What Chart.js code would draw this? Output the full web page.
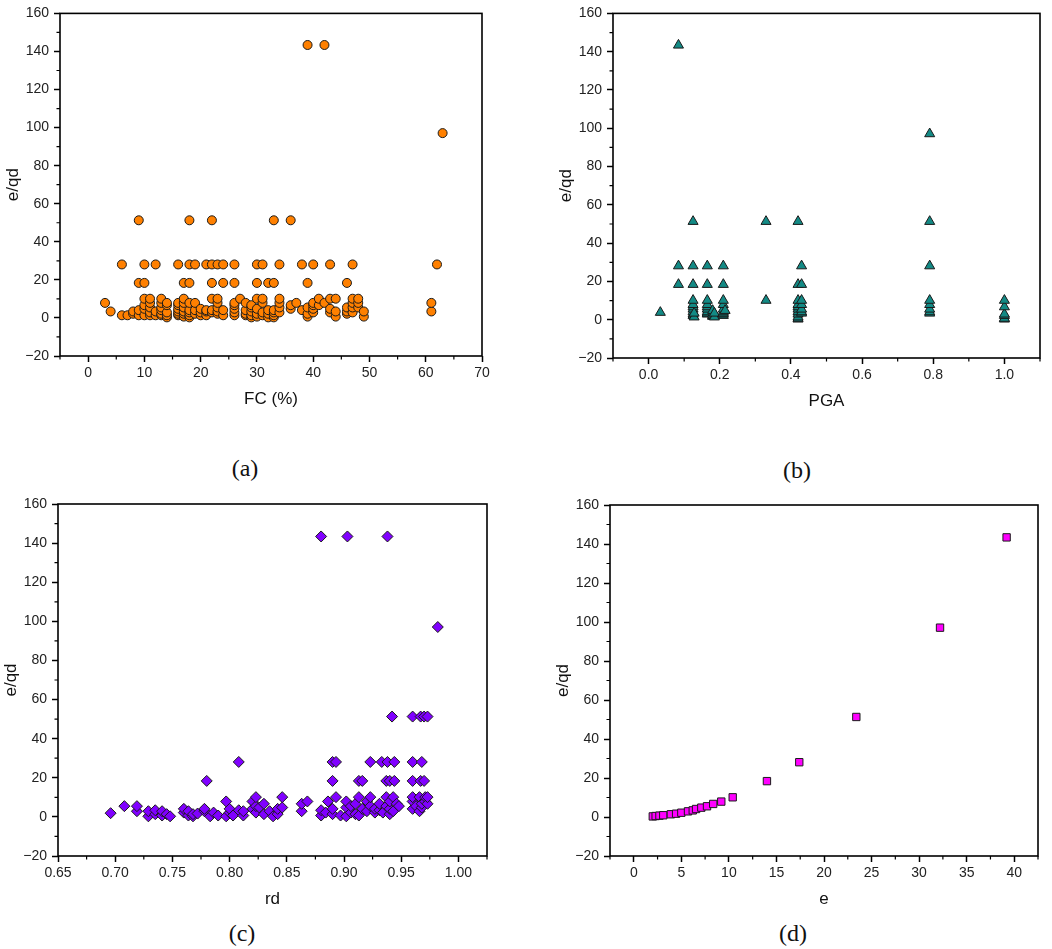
<!DOCTYPE html>
<html><head><meta charset="utf-8">
<script src="https://cdn.jsdelivr.net/npm/chart.js@4.4.1/dist/chart.umd.min.js"></script>
<style>
html,body{margin:0;padding:0;background:#fff;}
body{width:1052px;height:949px;position:relative;overflow:hidden;font-family:"Liberation Sans",Arial,sans-serif;}
canvas{position:absolute;}
.lab{position:absolute;font-family:"Liberation Serif","Times New Roman",serif;font-size:24px;color:#111;transform:translate(-50%,-50%);white-space:nowrap;}
</style></head><body>
<canvas id="ca" width="500" height="410" style="left:2px;top:0px;width:500px;height:410px"></canvas>
<canvas id="cb" width="497" height="412" style="left:555px;top:0px;width:497px;height:412px"></canvas>
<canvas id="cc" width="507" height="420" style="left:0px;top:490px;width:507px;height:420px"></canvas>
<canvas id="cd" width="500" height="420" style="left:552px;top:490px;width:500px;height:420px"></canvas>
<div class="lab" style="left:245px;top:468px">(a)</div>
<div class="lab" style="left:797px;top:470px">(b)</div>
<div class="lab" style="left:242px;top:933px">(c)</div>
<div class="lab" style="left:793px;top:933px">(d)</div>
<script>
// ---------- data ----------
// shared y ticks
const yTicks = [-20, 0, 20, 40, 60, 80, 100, 120, 140, 160];

// (a) FC (%) vs e/qd : each FC value with the e/qd values plotted at it
const aFC = [3, 4, 6, 7, 8, 9, 10, 11, 12, 13, 14, 16, 17, 18, 19, 20, 21, 22, 23, 24, 26, 27, 28, 29, 30, 31, 32, 33, 34, 36, 37, 38, 39, 40, 41, 42, 43, 44, 46, 47, 48, 49, 61, 62, 63];
const aEqd = [
  [7.9], [3.4], [1.4, 28.1], [1.4], [2.2, 3.4], [1.4, 4.1, 18.4, 51.3],
  [1.4, 4.8, 6.7, 10.1, 18.4, 28.1], [1.4, 2.9, 5.5, 7.9, 10.1], [1.4, 3.4, 28.1],
  [1.4, 2.2, 4.1, 5.5, 7.9, 10.1], [0.3, 1.4, 2.9, 6.7, 7.9],
  [1.4, 2.2, 3.4, 4.8, 6.7, 7.9, 28.1], [0.7, 2.2, 3.4, 5.5, 7.9, 10.1, 18.4],
  [0.3, 1.4, 2.9, 4.1, 7.9, 18.4, 28.1, 51.3], [2.2, 4.1, 7.9, 28.1], [1.4, 2.9, 4.8],
  [1.4, 3.4, 4.1, 28.1], [2.9, 4.1, 10.1, 18.4, 28.1, 51.3], [2.2, 3.4, 5.5, 7.9, 10.1, 28.1],
  [1.4, 4.1, 18.4, 28.1], [1.4, 2.9, 4.8, 6.7, 7.9, 18.4, 28.1], [10.1], [1.4, 2.2, 4.1, 7.9],
  [0.3, 1.4, 3.4, 5.5, 6.7], [0.7, 2.2, 4.8, 10.1, 18.4, 28.1], [1.4, 2.9, 7.9, 10.1, 28.1],
  [0.3, 2.2, 4.1, 18.4], [0.3, 1.4, 2.9, 4.1, 18.4, 51.3], [2.9, 5.5, 7.9, 10.1, 28.1],
  [4.8, 6.7, 51.3], [7.9], [4.1, 28.1], [0.7, 2.2, 5.5, 18.4, 143.4], [2.9, 4.8, 6.7, 7.9, 28.1],
  [6.7, 10.1], [7.9, 143.4], [2.9, 4.8, 10.1, 28.1], [0.7, 3.4, 10.1], [2.2, 3.4, 5.5, 18.4],
  [2.9, 5.5, 7.9, 10.1, 28.1], [5.5, 7.9, 10.1], [0.7, 3.4], [3.4, 7.9], [28.1], [97.1]
];
const aXTicks = [0, 10, 20, 30, 40, 50, 60, 70];

// (b) PGA vs e/qd
const bPGA = [0.033, 0.084, 0.125, 0.128, 0.165, 0.18, 0.185, 0.21, 0.215, 0.33, 0.42, 0.43, 0.79, 1.0];
const bEqd = [
  [3.8], [18.4, 28.1, 143.4], [2.2, 2.9, 4.1, 5.5, 6.7, 7.9, 10.1, 18.4, 28.1, 51.3], [1.4, 3.4],
  [2.9, 3.4, 4.1, 5.5, 6.7, 7.9, 10.1, 18.4, 28.1], [1.7, 2.2, 2.9, 4.8], [1.4, 3.4],
  [2.2, 2.9, 3.4, 4.1, 5.5, 7.9, 10.1, 18.4, 28.1], [4.8], [10.1, 51.3],
  [0.3, 0.7, 1.4, 2.9, 4.1, 5.5, 6.7, 7.9, 10.1, 18.4, 51.3], [3.4, 4.1, 5.5, 7.9, 10.1, 18.4, 28.1],
  [3.4, 4.1, 5.5, 7.9, 10.1, 28.1, 51.3, 97.1], [0.3, 0.7, 2.2, 2.9, 6.7, 10.1]
];
const bXTicks = [0.0, 0.2, 0.4, 0.6, 0.8, 1.0];

// (c) rd vs e/qd
const cRd = [0.696, 0.708, 0.719, 0.729, 0.735, 0.741, 0.745, 0.748, 0.760, 0.764, 0.768, 0.772, 0.778, 0.780,
  0.783, 0.786, 0.790, 0.797, 0.800, 0.803, 0.808, 0.812, 0.820, 0.823, 0.826, 0.830, 0.835, 0.838, 0.842,
  0.846, 0.863, 0.868, 0.880, 0.884, 0.886, 0.890, 0.893, 0.897, 0.902, 0.903, 0.906, 0.910, 0.913, 0.916,
  0.920, 0.923, 0.927, 0.931, 0.933, 0.934, 0.937, 0.938, 0.940, 0.942, 0.943, 0.944, 0.946, 0.948, 0.960,
  0.963, 0.966, 0.967, 0.968, 0.970, 0.971, 0.973, 0.982];
const cEqd = [
  [1.9], [5.5], [2.9, 5.5], [0.3, 2.9], [1.4, 3.4], [0.7, 2.9], [1.4], [0.3], [2.2, 4.1], [0.7, 2.9],
  [0.3, 1.4], [1.7], [2.9, 4.1], [18.4], [0.3], [2.2], [0.7], [0.3, 7.9], [2.2, 4.1], [0.7], [3.4, 28.1],
  [0.7, 2.9], [4.1, 7.9], [2.2, 5.5, 10.1], [4.8], [1.4, 6.7], [2.9], [0.3], [1.4, 4.1], [4.8, 10.1],
  [2.9, 6.7], [7.9], [0.7, 3.4, 143.4], [2.2], [7.9], [1.4, 4.1, 18.4, 28.1], [10.1, 28.1], [0.7],
  [0.3, 4.8, 7.9], [143.4], [2.2, 5.5], [1.4, 6.7], [0.7, 10.1, 18.4], [4.1, 18.4], [2.9, 7.9],
  [5.5, 10.1, 28.1], [2.2, 4.1], [3.4, 6.7], [28.1], [2.2], [5.5, 10.1, 18.4], [28.1, 143.4],
  [1.4, 4.1, 7.9, 18.4], [51.3], [2.9, 10.1], [18.4, 28.1], [6.7], [5.5], [4.1, 7.9, 10.1, 18.4, 28.1, 51.3],
  [5.5], [2.9, 10.1], [18.4, 51.3], [4.8, 6.7, 28.1], [18.4, 51.3], [7.9, 10.1], [6.7, 10.1, 51.3], [97.1]
];
const cXTicks = [0.65, 0.70, 0.75, 0.80, 0.85, 0.90, 0.95, 1.00];

// (d) e vs e/qd
const dE = [2.0, 2.3, 2.7, 3.1, 3.9, 4.45, 5.0, 5.7, 6.2, 6.55, 7.1, 7.7, 8.35, 9.2, 10.4, 14.0, 17.4, 23.4, 32.2, 39.2];
const dEqd = [0.3, 0.5, 0.7, 0.9, 1.4, 1.7, 2.2, 2.9, 3.4, 4.1, 4.8, 5.5, 6.7, 7.9, 10.1, 18.4, 28.1, 51.3, 97.1, 143.4];
const dXTicks = [0, 5, 10, 15, 20, 25, 30, 35, 40];

// ---------- drawing ----------
const framePlugin = {
  id: 'frame',
  afterDraw(chart) {
    const {ctx, chartArea: a, scales: {x, y}} = chart;
    const minors = (sc) => {
      const t = sc.ticks.map(o => o.value);
      const st = t[1] - t[0];
      const out = [];
      for (let k = -1; k < t.length + 2; k++) {
        const v = t[0] + st * (k + 0.5);
        if (v >= sc.min - 1e-9 && v <= sc.max + 1e-9) out.push(v);
      }
      return out;
    };
    ctx.save();
    ctx.strokeStyle = '#000';
    ctx.lineWidth = 1.2;
    ctx.beginPath();
    minors(x).forEach(v => { const p = x.getPixelForValue(v); ctx.moveTo(p, a.bottom); ctx.lineTo(p, a.bottom + 3.5); });
    minors(y).forEach(v => { const p = y.getPixelForValue(v); ctx.moveTo(a.left, p); ctx.lineTo(a.left - 3.5, p); });
    ctx.stroke();
    ctx.lineWidth = 1.6;
    ctx.strokeRect(a.left, a.top, a.right - a.left, a.bottom - a.top);
    ctx.restore();
  }
};

const tickFont = {family: '"Liberation Sans", Arial, sans-serif', size: 14};
const titleFont = {family: '"Liberation Sans", Arial, sans-serif', size: 17};
const minusFix = s => String(s).replace('-', '\u2212');

function makeChart(id, o) {
  const pts = [];
  o.xs.forEach((x, i) => {
    const ys = Array.isArray(o.ys[i]) ? o.ys[i] : [o.ys[i]];
    ys.forEach(y => pts.push({x, y}));
  });
  new Chart(document.getElementById(id), {
    type: 'scatter',
    data: {datasets: [{
      data: pts,
      pointStyle: o.style,
      pointRadius: o.r,
      pointBackgroundColor: o.color,
      pointBorderColor: '#1a1a1a',
      pointBorderWidth: 1
    }]},
    options: {
      responsive: false,
      animation: false,
      events: [],
      layout: {padding: {top: o.padTop, right: o.padRight, left: 0, bottom: 0}},
      plugins: {legend: {display: false}, tooltip: {enabled: false}},
      scales: {
        x: {
          type: 'linear', min: o.xmin, max: o.xmax,
          afterBuildTicks: s => { s.ticks = o.xTicks.map(v => ({value: v})); },
          afterFit: s => { s.height = 54; },
          ticks: {callback: o.fmt, font: tickFont, color: '#222', padding: 3, maxRotation: 0, autoSkip: false},
          grid: {display: true, drawOnChartArea: false, drawTicks: true, tickLength: 6, tickWidth: 1.5, tickColor: '#000'},
          border: {display: false},
          title: {display: true, text: o.xTitle, font: titleFont, color: '#111', padding: 0}
        },
        y: {
          type: 'linear', min: -20, max: 160,
          afterBuildTicks: s => { s.ticks = yTicks.map(v => ({value: v})); },
          afterFit: s => { s.width = 58; },
          ticks: {callback: v => minusFix(v), font: tickFont, color: '#222', padding: 5, autoSkip: false},
          grid: {display: true, drawOnChartArea: false, drawTicks: true, tickLength: 6, tickWidth: 1.5, tickColor: '#000'},
          border: {display: false},
          title: {display: true, text: 'e/qd', font: titleFont, color: '#111', padding: {top: 1, bottom: 0}}
        }
      }
    },
    plugins: [framePlugin]
  });
}

makeChart('ca', {xs: aFC, ys: aEqd, style: 'circle', r: 4.5, color: '#ff8000', xmin: -5, xmax: 70,
  xTicks: aXTicks, fmt: v => minusFix(v), xTitle: 'FC (%)', padTop: 11, padRight: 20});
makeChart('cb', {xs: bPGA, ys: bEqd, style: 'triangle', r: 5.8, color: '#138a85', xmin: -0.1, xmax: 1.1,
  xTicks: bXTicks, fmt: v => Number(v).toFixed(1), xTitle: 'PGA', padTop: 8, padRight: 12});
makeChart('cc', {xs: cRd, ys: cEqd, style: 'rectRot', r: 5.5, color: '#8000ff', xmin: 0.65, xmax: 1.025,
  xTicks: cXTicks, fmt: v => Number(v).toFixed(2), xTitle: 'rd', padTop: 14, padRight: 20});
makeChart('cd', {xs: dE, ys: dEqd, style: 'rect', r: 5.2, color: '#ff00ff', xmin: -2.5, xmax: 42.5,
  xTicks: dXTicks, fmt: v => minusFix(v), xTitle: 'e', padTop: 15, padRight: 14});
</script>
</body></html>
